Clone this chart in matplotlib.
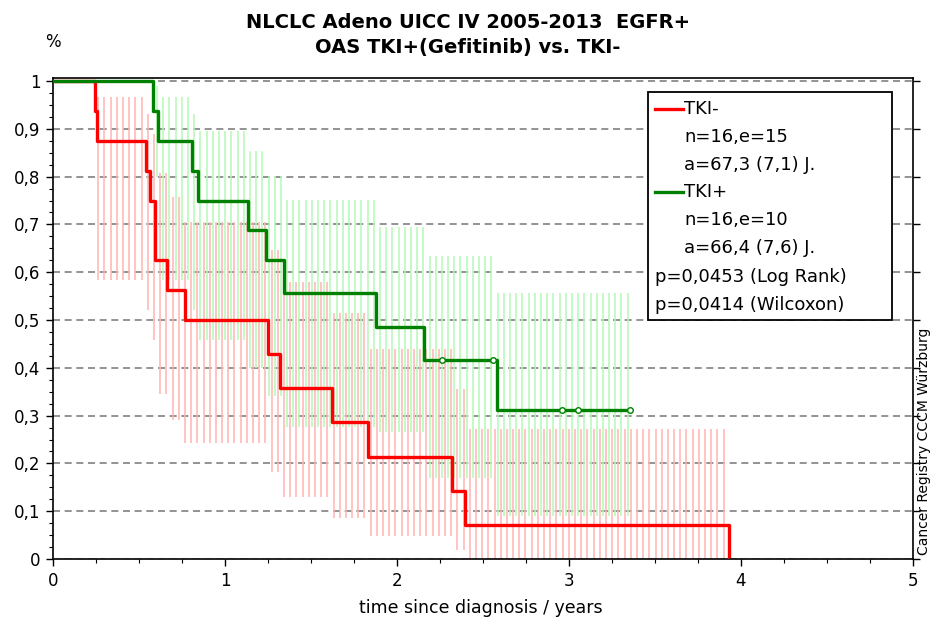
import numpy as np
import matplotlib
matplotlib.use("Agg")
import matplotlib.pyplot as plt
from matplotlib.patches import Rectangle
from matplotlib.lines import Line2D
from matplotlib.ticker import FuncFormatter, MultipleLocator

# Kaplan-Meier steps (years, survival fraction)
red_t = [0, 0.244, 0.254, 0.541, 0.564, 0.593, 0.661, 0.767, 1.252, 1.320, 1.620, 1.833, 2.318, 2.395, 3.930]
red_s = [1, 0.9375, 0.875, 0.8125, 0.75, 0.625, 0.5625, 0.5, 0.4286, 0.3571, 0.2857, 0.2143, 0.1429, 0.0714, 0]
red_lo = [1, 0.80, 0.584, 0.521, 0.458, 0.345, 0.291, 0.242, 0.183, 0.130, 0.086, 0.048, 0.019, 0.0, 0]
red_hi = [1, 1.00, 0.966, 0.932, 0.890, 0.807, 0.758, 0.706, 0.646, 0.580, 0.515, 0.440, 0.356, 0.272, 0]

green_t = [0, 0.583, 0.612, 0.806, 0.845, 1.136, 1.236, 1.341, 1.880, 2.157, 2.580, 3.355]
green_s = [1, 0.9375, 0.875, 0.8125, 0.75, 0.6875, 0.625, 0.5556, 0.4861, 0.4167, 0.3125, 0.3125]
green_lo = [1, 0.80, 0.584, 0.520, 0.458, 0.400, 0.340, 0.277, 0.265, 0.169, 0.089, 0.089]
green_hi = [1, 0.99, 0.966, 0.932, 0.895, 0.853, 0.801, 0.751, 0.695, 0.634, 0.556, 0.556]
green_cens = [2.260, 2.556, 2.957, 3.051, 3.355]

legend_rows = ["TKI-", "n=16,e=15", "a=67,3 (7,1) J.", "TKI+", "n=16,e=10", "a=66,4 (7,6) J.",
               "p=0,0453 (Log Rank)", "p=0,0414 (Wilcoxon)"]

W, H = 932, 624
RED = "#ff0000"
GREEN = "#008000"


def px(x, y):
    return x / W, 1 - y / H


def hatch(ax, t, lo, hi, x0, end, color):
    xs = np.arange(x0, end, 0.036)
    idx = np.searchsorted(t, xs, side="right") - 1
    lo = np.asarray(lo)[idx]
    hi = np.asarray(hi)[idx]
    keep = hi - lo > 0
    ax.vlines(xs[keep], lo[keep], hi[keep], colors=color, lw=1.1, zorder=1)


fig = plt.figure(figsize=(9.32, 6.24), dpi=100)
plt.rcParams["font.family"] = "DejaVu Sans"
l, b = px(53, 559)
r, tp = px(913, 78)
ax = fig.add_axes([l, b, r - l, tp - b])
ax.set_xlim(0, 5)
ax.set_ylim(0, 1.0063)

# confidence bands as vertical hatch lines
hatch(ax, red_t, red_lo, red_hi, 0.011, 3.925, "#ffb4b4")
hatch(ax, green_t, green_lo, green_hi, 0.029, 3.345, "#b4f8b4")

# grid
for v in np.arange(0.1, 1.05, 0.1):
    ax.axhline(v, color="#808080", lw=1.2, dashes=(4.2, 2.8), zorder=0.5)
ax.axhline(0, color="#202020", lw=1.2, dashes=(4.2, 2.8), zorder=5)

ax.step(red_t, red_s, where="post", color=RED, lw=2.4, zorder=3)
ax.step(green_t, green_s, where="post", color=GREEN, lw=2.4, zorder=4)
cens_y = [green_s[np.searchsorted(green_t, c, side="right") - 1] for c in green_cens]
ax.plot(green_cens, cens_y, "o", ms=4, mfc="white", mec=GREEN, mew=1, zorder=6)

for s in ax.spines.values():
    s.set_linewidth(1.2)

ax.xaxis.set_major_locator(MultipleLocator(1))
ax.xaxis.set_minor_locator(MultipleLocator(0.25))
ax.yaxis.set_major_locator(MultipleLocator(0.1))
ax.yaxis.set_minor_locator(MultipleLocator(0.025))
fmt = FuncFormatter(lambda v, p: ("%g" % round(v, 2)).replace(".", ","))
ax.xaxis.set_major_formatter(fmt)
ax.yaxis.set_major_formatter(fmt)
ax.tick_params(which="major", length=5, width=1, labelsize=12, pad=4)
ax.tick_params(which="minor", length=3, width=0.8)
ax.tick_params(axis="y", which="both", right=True, direction="out")
ax.tick_params(axis="y", which="minor", right=False)

# titles and labels
fig.text(*px(468, 22), "NLCLC Adeno UICC IV 2005-2013  EGFR+", ha="center", va="center",
         fontsize=14, fontweight="bold")
fig.text(*px(468, 47), "OAS TKI+(Gefitinib) vs. TKI-", ha="center", va="center",
         fontsize=14, fontweight="bold")
fig.text(*px(53, 42), "%", ha="center", va="center", fontsize=12)
fig.text(*px(481, 608), "time since diagnosis / years", ha="center", va="center", fontsize=12.5)
fig.text(*px(924, 555), "Cancer Registry CCCM W\u00fcrzburg", ha="center", va="bottom",
         rotation=90, fontsize=10)

# legend box
x0, y0 = px(648, 320)
x1, y1 = px(892, 92)
fig.add_artist(Rectangle((x0, y0), x1 - x0, y1 - y0, transform=fig.transFigure,
                         fill=True, facecolor="white", edgecolor="black", lw=1.3, zorder=10))
rows_y = [109, 137, 165, 192, 220, 248, 277, 305]
for i, (txt, yy) in enumerate(zip(legend_rows, rows_y)):
    if i in (0, 3):
        fig.add_artist(Line2D([px(655, 0)[0], px(683, 0)[0]], [px(0, yy)[1]] * 2,
                              transform=fig.transFigure, color=RED if i == 0 else GREEN,
                              lw=2.4, zorder=11))
    xt = 655 if i >= 6 else 684
    fig.text(*px(xt, yy), txt, ha="left", va="center", fontsize=13, zorder=12)

fig.savefig("out.png", dpi=100)
